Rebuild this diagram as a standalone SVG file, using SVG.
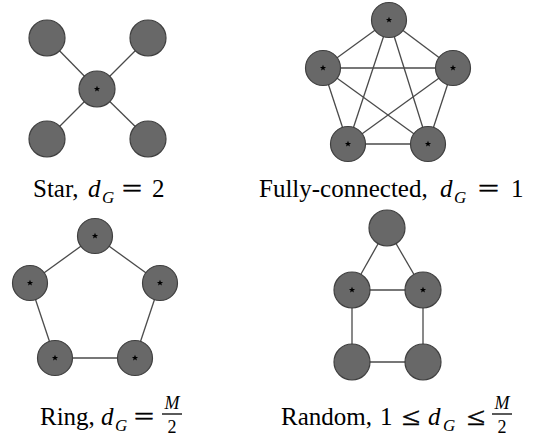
<svg xmlns="http://www.w3.org/2000/svg" xmlns:xlink="http://www.w3.org/1999/xlink" width="540" height="439" viewBox="0 0 540 439">
<style>
.n{fill:#686868;stroke:#404040;stroke-width:1.2}
.e{stroke:#4a4a4a;stroke-width:1.3;fill:none}
.t{font-family:"Liberation Serif","Times New Roman",serif;font-size:25px;fill:#000}
.q{font-family:"Liberation Serif","Times New Roman",serif;font-size:25px;fill:#000;stroke:#000;stroke-width:0.5}
.m{font-family:"Liberation Serif","Times New Roman",serif;font-style:italic;font-size:25px;fill:#000}
.s{font-family:"Liberation Serif","Times New Roman",serif;font-style:italic;font-size:17px;fill:#000}
.f{font-family:"Liberation Serif","Times New Roman",serif;font-size:18px;fill:#000}
.fi{font-family:"Liberation Serif","Times New Roman",serif;font-style:italic;font-size:18px;fill:#000}
</style>
<defs>
<polygon id="st" points="0,-3.2 0.9,-1 3.1,-1 1.3,0.4 2,2.6 0,1.2 -2,2.6 -1.3,0.4 -3.1,-1 -0.9,-1" fill="#000"/>
</defs>
<rect width="540" height="439" fill="#fff"/>
<g id="connectors">
<line class="e" x1="97" y1="89" x2="47" y2="38"/>
<line class="e" x1="97" y1="89" x2="148" y2="38"/>
<line class="e" x1="97" y1="89" x2="47" y2="139"/>
<line class="e" x1="97" y1="89" x2="148" y2="139"/>
<line class="e" x1="389" y1="20" x2="323" y2="68"/>
<line class="e" x1="389" y1="20" x2="453" y2="68"/>
<line class="e" x1="389" y1="20" x2="348" y2="144"/>
<line class="e" x1="389" y1="20" x2="428" y2="144"/>
<line class="e" x1="323" y1="68" x2="453" y2="68"/>
<line class="e" x1="323" y1="68" x2="348" y2="144"/>
<line class="e" x1="323" y1="68" x2="428" y2="144"/>
<line class="e" x1="453" y1="68" x2="348" y2="144"/>
<line class="e" x1="453" y1="68" x2="428" y2="144"/>
<line class="e" x1="348" y1="144" x2="428" y2="144"/>
<line class="e" x1="95" y1="236" x2="30" y2="283"/>
<line class="e" x1="95" y1="236" x2="160" y2="283"/>
<line class="e" x1="30" y1="283" x2="55" y2="358"/>
<line class="e" x1="160" y1="283" x2="135" y2="358"/>
<line class="e" x1="55" y1="358" x2="135" y2="358"/>
<line class="e" x1="387" y1="228" x2="352" y2="290"/>
<line class="e" x1="387" y1="228" x2="423" y2="290"/>
<line class="e" x1="352" y1="290" x2="423" y2="290"/>
<line class="e" x1="352" y1="290" x2="352" y2="362"/>
<line class="e" x1="423" y1="290" x2="423" y2="362"/>
<line class="e" x1="352" y1="362" x2="423" y2="362"/>
</g>
<g id="star-graph">
<g id="s-tl"><circle class="n" cx="47" cy="38" r="18"/></g>
<g id="s-tr"><circle class="n" cx="148" cy="38" r="18"/></g>
<g id="s-c"><circle class="n" cx="97" cy="89" r="18"/><use xlink:href="#st" x="97" y="89"/></g>
<g id="s-bl"><circle class="n" cx="47" cy="139" r="18"/></g>
<g id="s-br"><circle class="n" cx="148" cy="139" r="18"/></g>
</g>
<g id="full-graph">
<g id="f-t"><circle class="n" cx="389" cy="20" r="17.5"/><use xlink:href="#st" x="389" y="20"/></g>
<g id="f-l"><circle class="n" cx="323" cy="68" r="17.5"/><use xlink:href="#st" x="323" y="68"/></g>
<g id="f-r"><circle class="n" cx="453" cy="68" r="17.5"/><use xlink:href="#st" x="453" y="68"/></g>
<g id="f-bl"><circle class="n" cx="348" cy="144" r="17.5"/><use xlink:href="#st" x="348" y="144"/></g>
<g id="f-br"><circle class="n" cx="428" cy="144" r="17.5"/><use xlink:href="#st" x="428" y="144"/></g>
</g>
<g id="ring-graph">
<g id="r-t"><circle class="n" cx="95" cy="236" r="17.5"/><use xlink:href="#st" x="95" y="236"/></g>
<g id="r-l"><circle class="n" cx="30" cy="283" r="17.5"/><use xlink:href="#st" x="30" y="283"/></g>
<g id="r-r"><circle class="n" cx="160" cy="283" r="17.5"/><use xlink:href="#st" x="160" y="283"/></g>
<g id="r-bl"><circle class="n" cx="55" cy="358" r="17.5"/><use xlink:href="#st" x="55" y="358"/></g>
<g id="r-br"><circle class="n" cx="135" cy="358" r="17.5"/><use xlink:href="#st" x="135" y="358"/></g>
</g>
<g id="random-graph">
<g id="d-t"><circle class="n" cx="387" cy="228" r="18"/></g>
<g id="d-ml"><circle class="n" cx="352" cy="290" r="18"/><use xlink:href="#st" x="352" y="290"/></g>
<g id="d-mr"><circle class="n" cx="423" cy="290" r="18"/><use xlink:href="#st" x="423" y="290"/></g>
<g id="d-bl"><circle class="n" cx="352" cy="362" r="18"/></g>
<g id="d-br"><circle class="n" cx="423" cy="362" r="18"/></g>
</g>
<g id="label-star">
<text class="t" x="33" y="197">Star,</text>
<text class="m" x="88" y="197">d</text>
<text class="s" x="102" y="203">G</text>
<text class="q" x="122" y="197" textLength="20" lengthAdjust="spacingAndGlyphs">=</text>
<text class="t" x="152" y="197">2</text>
</g>
<g id="label-full">
<text class="t" x="259" y="197">Fully-connected,</text>
<text class="m" x="440" y="197">d</text>
<text class="s" x="454" y="203">G</text>
<text class="q" x="478" y="197" textLength="21" lengthAdjust="spacingAndGlyphs">=</text>
<text class="t" x="511" y="197">1</text>
</g>
<g id="label-ring">
<text class="t" x="40" y="425">Ring,</text>
<text class="m" x="101" y="425">d</text>
<text class="s" x="115" y="431">G</text>
<text class="q" x="134" y="425" textLength="20" lengthAdjust="spacingAndGlyphs">=</text>
<line x1="162" y1="414" x2="182" y2="414" stroke="#000" stroke-width="1.3"/>
<text class="fi" x="172" y="409" text-anchor="middle">M</text>
<text class="f" x="172" y="433" text-anchor="middle">2</text>
</g>
<g id="label-random">
<text class="t" x="281" y="425">Random,</text>
<text class="t" x="380" y="425">1</text>
<text class="q" x="402" y="425" textLength="18" lengthAdjust="spacingAndGlyphs">≤</text>
<text class="m" x="428" y="425">d</text>
<text class="s" x="443" y="431">G</text>
<text class="q" x="467" y="425" textLength="18" lengthAdjust="spacingAndGlyphs">≤</text>
<line x1="492" y1="414" x2="512" y2="414" stroke="#000" stroke-width="1.3"/>
<text class="fi" x="502" y="409" text-anchor="middle">M</text>
<text class="f" x="502" y="433" text-anchor="middle">2</text>
</g>
</svg>
